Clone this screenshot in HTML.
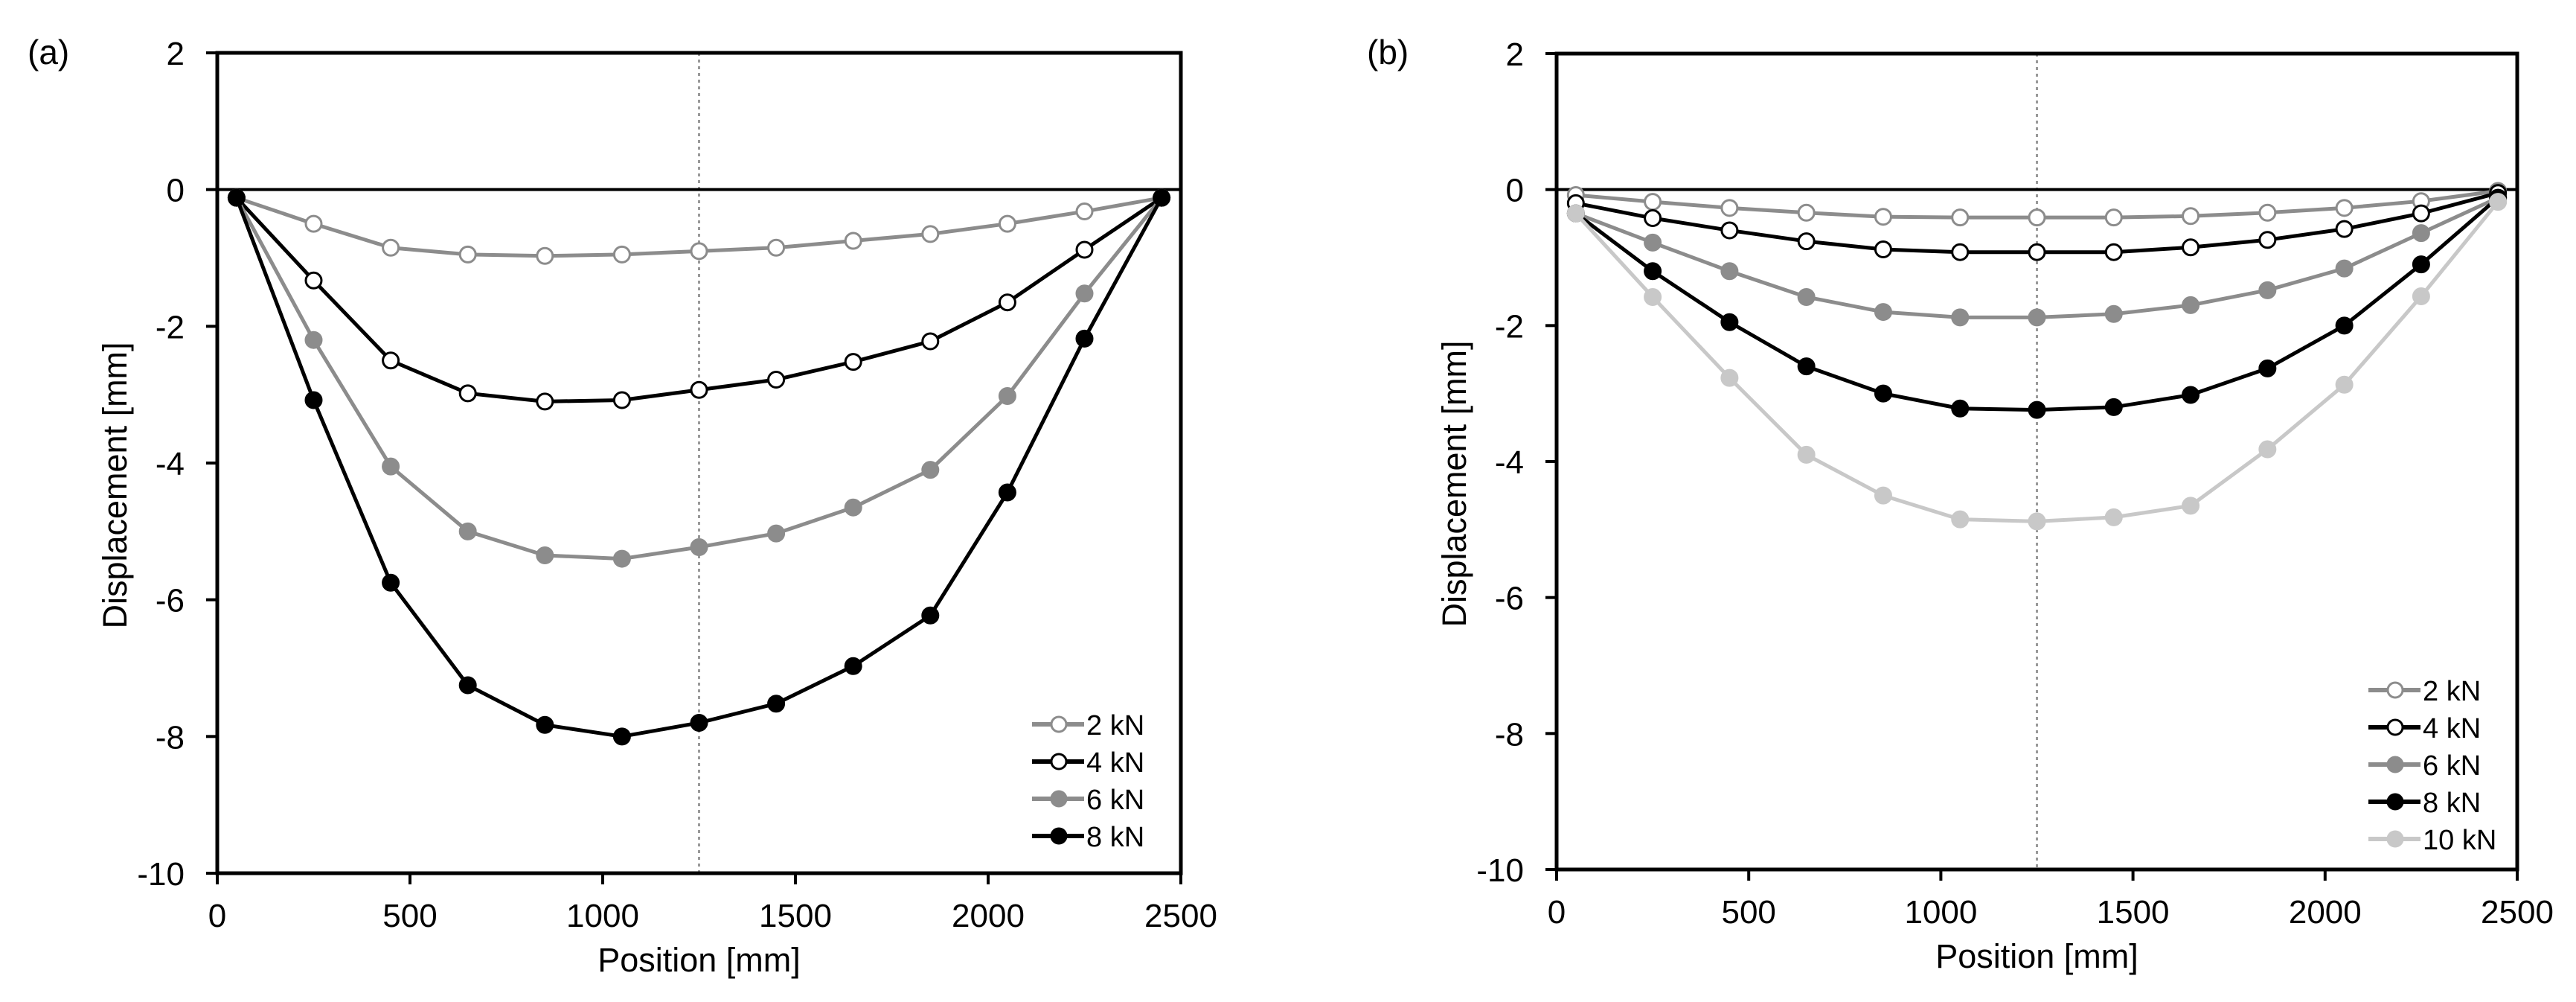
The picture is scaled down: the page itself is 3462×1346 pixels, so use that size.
<!DOCTYPE html>
<html><head><meta charset="utf-8"><style>
html,body{margin:0;padding:0;background:#fff;}
svg{display:block;font-family:"Liberation Sans",Arial,sans-serif;}
</style></head><body>
<svg id="fig" width="3462" height="1346" viewBox="0 0 3462 1346" xmlns="http://www.w3.org/2000/svg"></svg>
<script>
const positions = [50,250,450,650,850,1050,1250,1450,1650,1850,2050,2250,2450];
const xTicks = [0,500,1000,1500,2000,2500];
const yTicks = [2,0,-2,-4,-6,-8,-10];
const aLabels = ["2 kN","4 kN","6 kN","8 kN"];
const a2 = [-0.12,-0.5,-0.85,-0.95,-0.97,-0.95,-0.9,-0.85,-0.75,-0.65,-0.5,-0.32,-0.12];
const a4 = [-0.12,-1.33,-2.5,-2.98,-3.1,-3.08,-2.93,-2.78,-2.52,-2.22,-1.65,-0.88,-0.12];
const a6 = [-0.12,-2.2,-4.05,-5.0,-5.35,-5.4,-5.23,-5.03,-4.65,-4.1,-3.02,-1.52,-0.12];
const a8 = [-0.12,-3.08,-5.75,-7.25,-7.83,-8.0,-7.8,-7.52,-6.97,-6.23,-4.43,-2.18,-0.12];
const bLabels = ["2 kN","4 kN","6 kN","8 kN","10 kN"];
const b2 = [-0.08,-0.18,-0.27,-0.34,-0.4,-0.41,-0.41,-0.41,-0.39,-0.34,-0.27,-0.17,-0.02];
const b4 = [-0.2,-0.42,-0.6,-0.76,-0.88,-0.92,-0.92,-0.92,-0.85,-0.74,-0.58,-0.35,-0.05];
const b6 = [-0.35,-0.78,-1.2,-1.58,-1.8,-1.88,-1.88,-1.83,-1.7,-1.48,-1.16,-0.64,-0.12];
const b8 = [-0.35,-1.2,-1.95,-2.6,-3.0,-3.22,-3.24,-3.2,-3.02,-2.63,-2.0,-1.1,-0.12];
const b10 = [-0.35,-1.58,-2.77,-3.9,-4.5,-4.85,-4.88,-4.82,-4.65,-3.82,-2.87,-1.57,-0.18];

const NS="http://www.w3.org/2000/svg";
const svg=document.getElementById('fig');
function mk(tag,attrs,parent){const e=document.createElementNS(NS,tag);for(const k in attrs)e.setAttribute(k,attrs[k]);(parent||svg).appendChild(e);return e;}
const styles=[
 {stroke:"#8c8c8c",fill:"#fff",mstroke:"#8c8c8c"},
 {stroke:"#000",fill:"#fff",mstroke:"#000"},
 {stroke:"#8c8c8c",fill:"#8c8c8c",mstroke:"#8c8c8c"},
 {stroke:"#000",fill:"#000",mstroke:"#000"},
 {stroke:"#c8c8c8",fill:"#c8c8c8",mstroke:"#c8c8c8"}];

function panel(id,label,x0,x1,y0,y1,series,labels,legX,legY){
  const g=mk('g',{});
  
  
  const sx=v=>x0+(v-0)/2500*(x1-x0);
  const sy=v=>y0+(2-v)/12*(y1-y0);
  const pl=mk('text',{x:x0-255,y:86,'font-size':46,fill:'#000'},g);pl.textContent=label;
  
  
  const dl=mk('line',{x1:sx(1250),x2:sx(1250),y1:y0,y2:y1,stroke:'#999','stroke-width':3,'stroke-dasharray':'4 5'},g);
  
  
  const zl=mk('line',{x1:x0,x2:x1,y1:sy(0),y2:sy(0),stroke:'#000','stroke-width':4},g);
  
  
  const fr=mk('rect',{x:x0,y:y0,width:x1-x0,height:y1-y0,fill:'none',stroke:'#000','stroke-width':5},g);
  
  
  xTicks.forEach(t=>{
    const tl=mk('line',{x1:sx(t),x2:sx(t),y1:y1,y2:y1+15,stroke:'#000','stroke-width':4},g);
    
    
    const tx=mk('text',{x:sx(t),y:y1+72,'font-size':44,'text-anchor':'middle',fill:'#000'},g);
    tx.textContent=t;
    
    
  });
  yTicks.forEach(t=>{
    const tl=mk('line',{x1:x0-15,x2:x0,y1:sy(t),y2:sy(t),stroke:'#000','stroke-width':4},g);
    
    
    const tx=mk('text',{x:x0-44,y:sy(t)+16,'font-size':44,'text-anchor':'end',fill:'#000'},g);
    tx.textContent=t;
    
    
  });
  const xt=mk('text',{x:(x0+x1)/2,y:y1+132,'font-size':45,'text-anchor':'middle',fill:'#000'},g);
  xt.textContent='Position [mm]';
  
  
  const yc=(y0+y1)/2+30;
  const yt=mk('text',{x:x0-122,y:yc,'font-size':45,'text-anchor':'middle',fill:'#000',transform:`rotate(-90 ${x0-122} ${yc})`},g);
  yt.textContent='Displacement [mm]';
  
  
  series.forEach((vals,i)=>{
    const st=styles[i];
    const sg=mk('g',{},g);
    
    
    const pts=vals.map((v,j)=>sx(positions[j])+','+sy(v)).join(' ');
    const ln=mk('polyline',{points:pts,fill:'none',stroke:st.stroke,'stroke-width':5,'stroke-linejoin':'round'},sg);
    
    
    vals.forEach((v,j)=>{
      const c=mk('circle',{cx:sx(positions[j]),cy:sy(v),r:10.5,fill:st.fill,stroke:st.mstroke,'stroke-width':3},sg);
      
      
    });
  });
  const lg=mk('g',{},g);
  
  
  labels.forEach((lab,i)=>{
    const st=styles[i];const y=legY+i*50;
    const e=mk('g',{},lg);
    
    
    mk('line',{x1:legX,x2:legX+70,y1:y,y2:y,stroke:st.stroke,'stroke-width':6},e);
    mk('circle',{cx:legX+36,cy:y,r:10,fill:st.fill,stroke:st.mstroke,'stroke-width':3},e);
    const t=mk('text',{x:legX+73,y:y+14,'font-size':38,fill:'#000'},e);
    t.textContent=lab;
  });
}
panel('panel-a','(a)',292,1587,71,1173,[a2,a4,a6,a8],aLabels,1387,973);
panel('panel-b','(b)',2092,3383,72,1168,[b2,b4,b6,b8,b10],bLabels,3183,927);
</script>
</body></html>
